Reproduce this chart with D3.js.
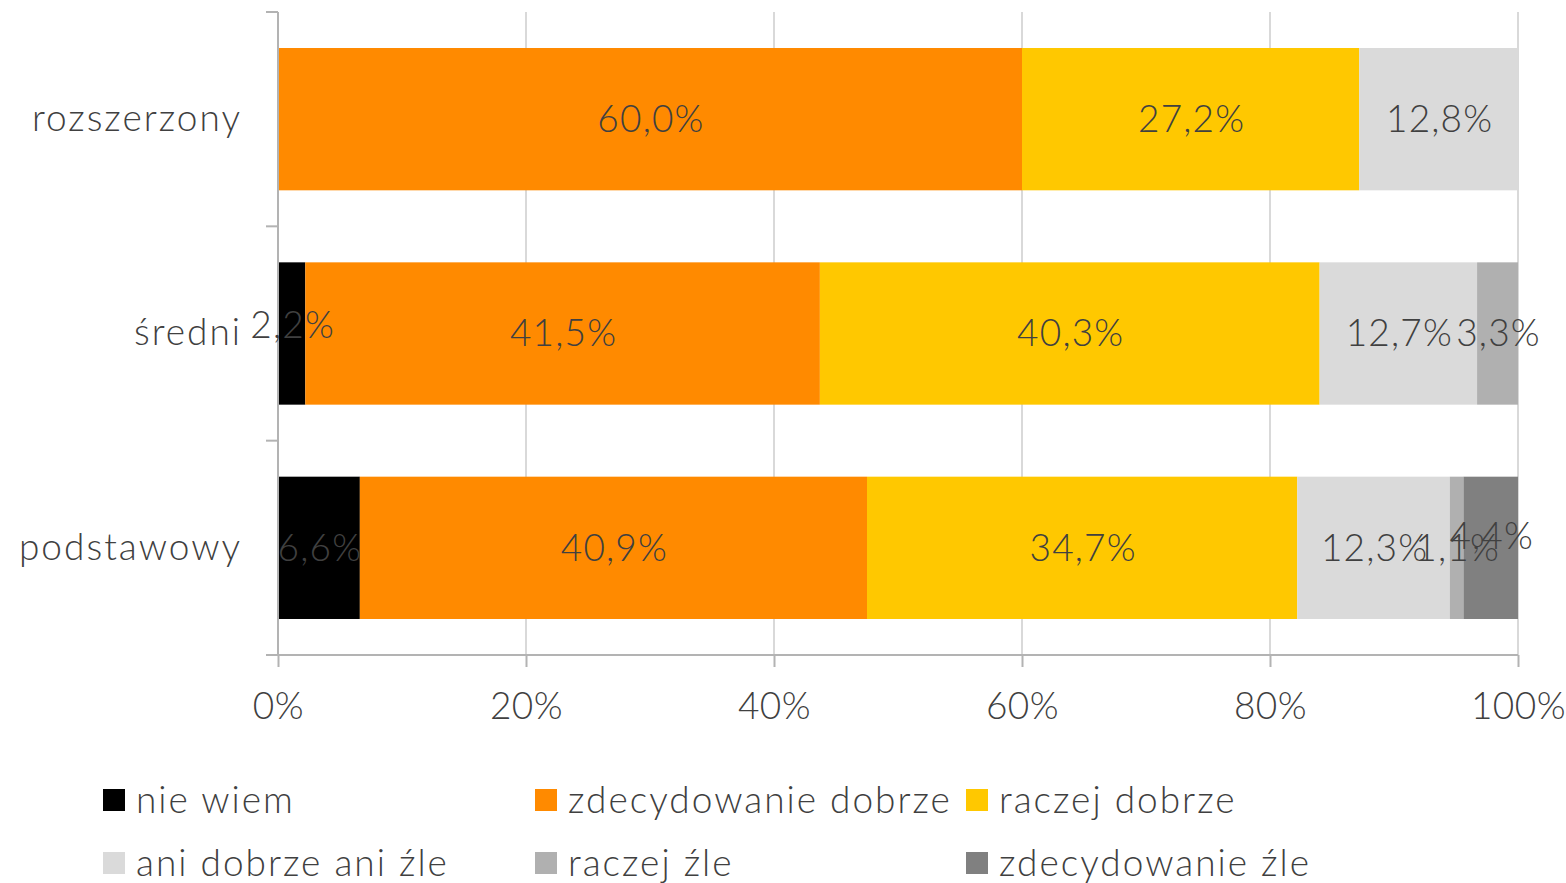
<!DOCTYPE html>
<html lang="pl">
<head>
<meta charset="utf-8">
<title>Ocena</title>
<script src="https://d3js.org/d3.v7.min.js"></script>
<style>
  body { margin: 0; background: #fff; }
  svg text { font-family: "Lato", "Open Sans", sans-serif; font-weight: 300; fill: #404040; letter-spacing: 2px; }
  svg text.lbl { letter-spacing: 1.2px; }
  .axis.x text { letter-spacing: 0.5px; }
  .grid line { stroke: #d9d9d9; stroke-width: 2; }
  .axis path, .axis line { stroke: #b3b3b3; stroke-width: 2; fill: none; }
</style>
</head>
<body>
<div id="chart"></div>
<script>
// categories (top to bottom) and series
var categories = ["rozszerzony", "średni", "podstawowy"];
var seriesNames = ["nie wiem", "zdecydowanie dobrze", "raczej dobrze", "ani dobrze ani źle", "raczej źle", "zdecydowanie źle"];
var seriesColors = ["#000000", "#ff8a00", "#ffc800", "#dadada", "#b0b0b0", "#808080"];
// values per series, in category order
var nieWiem        = [0,    2.2,  6.6];
var zdecDobrze     = [60.0, 41.5, 40.9];
var raczejDobrze   = [27.2, 40.3, 34.7];
var aniDobrzeAni   = [12.8, 12.7, 12.3];
var raczejZle      = [0,    3.3,  1.1];
var zdecZle        = [0,    0,    4.4];
var xTicks = [0, 20, 40, 60, 80, 100];

var seriesValues = [nieWiem, zdecDobrze, raczejDobrze, aniDobrzeAni, raczejZle, zdecZle];

var width = 1566, height = 883, fs = "37px";
var svg = d3.select("#chart").append("svg")
    .attr("width", width).attr("height", height);

var x = d3.scaleLinear().domain([0, 100]).range([278, 1518]);
var y = d3.scaleBand().domain(categories).range([12, 655])
    .paddingInner(0.336).paddingOuter(0.168);

// build stacked table
var table = categories.map(function(c, i) {
  var row = { cat: c };
  seriesNames.forEach(function(s, j) { row[s] = seriesValues[j][i]; });
  return row;
});
var stacked = d3.stack().keys(seriesNames)(table);

// gridlines
svg.append("g").attr("class", "grid")
  .selectAll("line").data(xTicks.slice(1)).enter().append("line")
  .attr("x1", function(d) { return x(d); }).attr("x2", function(d) { return x(d); })
  .attr("y1", 12).attr("y2", 655);

// bars
var layers = svg.selectAll(".layer").data(stacked).enter().append("g")
  .attr("class", "layer")
  .attr("fill", function(d, i) { return seriesColors[i]; });

layers.selectAll("rect").data(function(d) { return d; }).enter().append("rect")
  .attr("x", function(d) { return x(d[0]); })
  .attr("width", function(d) { return x(d[1]) - x(d[0]); })
  .attr("y", function(d) { return y(d.data.cat); })
  .attr("height", y.bandwidth());

// axes
var xAxis = d3.axisBottom(x).tickValues(xTicks).tickSize(12)
  .tickFormat(function(d) { return d + "%"; });
var gx = svg.append("g").attr("class", "axis x")
  .attr("transform", "translate(0,655)").call(xAxis);
gx.select(".domain").attr("d", "M266,0H" + x(100));
gx.selectAll("text").attr("y", 51).attr("dy", "0.35em")
  .style("font-size", fs);

var yAxis = d3.axisLeft(y).tickSize(0).tickPadding(36);
var gy = svg.append("g").attr("class", "axis y")
  .attr("transform", "translate(278,0)").call(yAxis);
gy.select(".domain").attr("d", "M0,12V655");
gy.selectAll("text").style("font-size", fs);
// category separator ticks
var seps = [12].concat(categories.map(function(c) { return y(c) + y.bandwidth() + y.step() * y.paddingInner() / 2; }));
gy.selectAll(".sep").data(seps).enter().append("line")
  .attr("class", "sep").attr("x1", -12).attr("x2", 0)
  .attr("y1", function(d) { return d; }).attr("y2", function(d) { return d; });

// data labels, drawn above all bars
var fmt = function(v) { return v.toFixed(1).replace(".", ",") + "%"; };
var labelShift = { "średni|nie wiem": -8, "podstawowy|zdecydowanie źle": -12 };
var labelData = [];
stacked.forEach(function(layer) {
  layer.forEach(function(d) {
    if (d[1] - d[0] > 0) labelData.push({ key: layer.key, d: d });
  });
});
svg.append("g").selectAll("text").data(labelData).enter().append("text")
  .attr("class", "lbl")
  .attr("x", function(o) { return x((o.d[0] + o.d[1]) / 2) + 1; })
  .attr("y", function(o) {
    return y(o.d.data.cat) + y.bandwidth() / 2 + (labelShift[o.d.data.cat + "|" + o.key] || 0);
  })
  .attr("dy", "0.35em")
  .attr("text-anchor", "middle")
  .style("font-size", fs)
  .text(function(o) { return fmt(o.d[1] - o.d[0]); });

// legend
var legendCols = [103, 535, 966], legendRows = [800, 863];
var legend = svg.selectAll(".legend").data(seriesNames).enter().append("g")
  .attr("class", "legend")
  .attr("transform", function(d, i) {
    return "translate(" + legendCols[i % 3] + "," + legendRows[Math.floor(i / 3)] + ")";
  });
legend.append("rect").attr("x", 0).attr("y", -11).attr("width", 22).attr("height", 22)
  .attr("fill", function(d, i) { return seriesColors[i]; });
legend.append("text").attr("x", 33).attr("dy", "0.35em")
  .style("font-size", fs).text(function(d) { return d; });
</script>
</body>
</html>
